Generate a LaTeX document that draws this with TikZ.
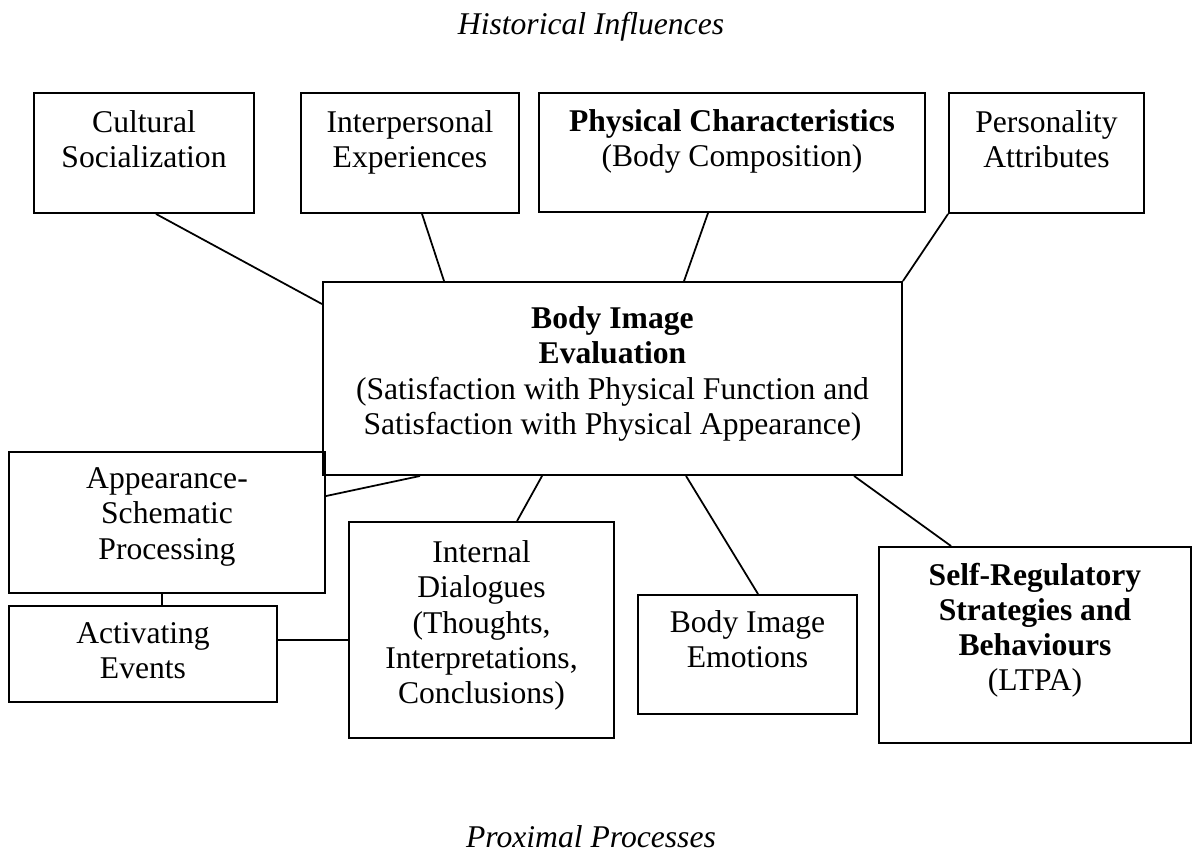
\documentclass[tikz,border=0pt]{standalone}
\usepackage{fontspec}
\setmainfont{Liberation Serif}
\usetikzlibrary{fit, calc}

\tikzset{
  box/.style={draw, line width=1.1pt, inner sep=0pt},
  boxtext/.style={align=center, inner sep=0pt, anchor=north},
  link/.style={line width=1pt},
  heading/.style={font=\fontsize{18}{20}\selectfont\itshape, anchor=base}
}

\begin{document}
\begin{tikzpicture}[x=0.02cm, y=-0.02cm, font=\fontsize{18}{20}\selectfont]
\useasboundingbox (0,0) rectangle (1193,856);

% Headings
\node[heading] (hist) at (591,34) {Historical Influences};
\node[heading] (prox) at (591,847) {Proximal Processes};

% Historical influences (top row)
\node[box, fit={(34,93) (254,213)}] (cult) {};
\node[boxtext] (cult-t) at ([yshift=-0.37cm]cult.north) {Cultural\\Socialization};
\node[box, fit={(301,93) (519,213)}] (inter) {};
\node[boxtext] (inter-t) at ([yshift=-0.37cm]inter.north) {Interpersonal\\Experiences};
\node[box, fit={(539,93) (925,212)}] (phys) {};
\node[boxtext] (phys-t) at ([yshift=-0.35cm]phys.north)
  {\textbf{Physical Characteristics}\\(Body Composition)};
\node[box, fit={(949,93) (1144,213)}] (pers) {};
\node[boxtext] (pers-t) at ([yshift=-0.37cm]pers.north) {Personality\\Attributes};

% Central evaluation
\node[box, fit={(323,282) (902,475)}] (body) {};
\node[boxtext] (body-t) at ([yshift=-0.51cm]body.north)
  {\textbf{Body Image}\\\textbf{Evaluation}\\(Satisfaction with Physical Function and\\Satisfaction with Physical Appearance)};

% Proximal processes
\node[box, fit={(9,452) (325,593)}] (appear) {};
\node[boxtext] (appear-t) at ([yshift=-0.33cm]appear.north) {Appearance-\\Schematic\\Processing};
\node[box, fit={(9,606) (277,702)}] (activ) {};
\node[boxtext] (activ-t) at ([yshift=-0.35cm]activ.north) {Activating\\Events};
\node[box, fit={(349,522) (614,738)}] (intern) {};
\node[boxtext] (intern-t) at ([yshift=-0.39cm]intern.north)
  {Internal\\Dialogues\\(Thoughts,\\Interpretations,\\Conclusions)};
\node[box, fit={(638,595) (857,714)}] (emot) {};
\node[boxtext] (emot-t) at ([yshift=-0.33cm]emot.north) {Body Image\\Emotions};
\node[box, fit={(879,547) (1191,743)}] (selfreg) {};
\node[boxtext] (selfreg-t) at ([yshift=-0.33cm]selfreg.north)
  {\textbf{Self-Regulatory}\\\textbf{Strategies and}\\\textbf{Behaviours}\\(LTPA)};

% Links into the evaluation
\draw[link] ($(cult.south west)+(123,0)$) -- ($(body.north west)+(0,23)$);
\draw[link] ($(inter.south west)+(122,0)$) -- ($(body.north west)+(122,0)$);
\draw[link] ($(phys.south west)+(170,0)$) -- ($(body.north west)+(362,0)$);
\draw[link] (pers.south west) -- (body.north east);

% Links out of the evaluation
\draw[link] ($(appear.north east)+(0,45)$) -- ($(body.south west)+(98,0)$);
\draw[link] ($(body.south west)+(220,0)$) -- ($(intern.north west)+(169,0)$);
\draw[link] ($(body.south west)+(364,0)$) -- ($(emot.north west)+(121,0)$);
\draw[link] ($(body.south west)+(532,0)$) -- ($(selfreg.north west)+(73,0)$);

% Appearance schemas and events
\draw[link] ($(appear.south west)+(154,0)$) -- ($(activ.north west)+(154,0)$);
\draw[link] ($(activ.north east)+(0,35)$) -- ($(intern.north west)+(0,119)$);

\end{tikzpicture}
\end{document}
